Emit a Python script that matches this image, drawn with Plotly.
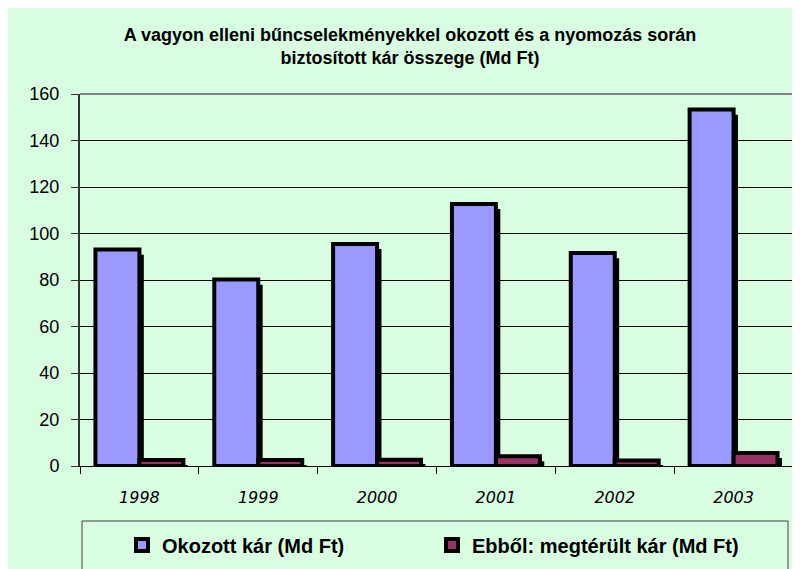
import plotly.graph_objects as go

years = ["1998", "1999", "2000", "2001", "2002", "2003"]
okozott = [93.1, 80.2, 95.5, 112.7, 91.6, 153.3]
megterult = [2.6, 2.6, 2.7, 4.2, 2.4, 5.6]
series_names = ["Okozott kár (Md Ft)", "Ebből: megtérült kár (Md Ft)"]
y_ticks = [0, 20, 40, 60, 80, 100, 120, 140, 160]
title_text = "A vagyon elleni bűncselekményekkel okozott és a nyomozás során<br>biztosított kár összege (Md Ft)"

GREEN = "rgb(217,253,224)"
BLUE = "#9999FF"
PLUM = "#993366"
SANS = "Liberation Sans, Arial, sans-serif"

W = 0.37       # bar width (category units)
SH_X = 0.037   # shadow shift right
SH_Y = 2.2     # shadow drop (data units)

fig = go.Figure()

# shadows
fig.add_trace(go.Bar(x=years, y=[v - SH_Y for v in okozott], width=W, offset=-W + SH_X,
                     marker=dict(color="black", line=dict(width=0)), showlegend=False, hoverinfo="skip"))
fig.add_trace(go.Bar(x=years, y=[v - SH_Y for v in megterult], width=W, offset=SH_X,
                     marker=dict(color="black", line=dict(width=0)), showlegend=False, hoverinfo="skip"))
# bars
fig.add_trace(go.Bar(x=years, y=okozott, width=W, offset=-W, name=series_names[0],
                     marker=dict(color=BLUE, line=dict(color="black", width=4)), legend="legend"))
fig.add_trace(go.Bar(x=years, y=megterult, width=W, offset=0, name=series_names[1],
                     marker=dict(color=PLUM, line=dict(color="black", width=4)), legend="legend2"))

L, R, T, B = 72, 15, 86, 111
pw = 800 - L - R
ph = 569 - T - B

def px_x(px):
    return (px - L) / pw

def px_y(py):
    return (569 - B - py) / ph

shapes = [
    # plot area border (top and right)
    dict(type="line", xref="paper", yref="paper", x0=0, x1=1, y0=1, y1=1,
         line=dict(color="#808080", width=2), layer="above"),
    dict(type="line", xref="paper", yref="paper", x0=1, x1=1, y0=0, y1=1,
         line=dict(color="#808080", width=2), layer="above"),
    # legend box
    dict(type="rect", xref="paper", yref="paper", x0=px_x(74), x1=px_x(780), y0=px_y(575), y1=px_y(513),
         line=dict(color="#404040", width=1), fillcolor="rgba(0,0,0,0)", layer="above"),
]

legend_font = dict(family=SANS, size=20, color="black", weight="bold")
fig.update_layout(
    width=800, height=569,
    margin=dict(l=L, r=R, t=T, b=B, autoexpand=False),
    paper_bgcolor=GREEN,
    plot_bgcolor=GREEN,
    barmode="overlay",
    title=dict(text=title_text, x=402 / 800, xanchor="center", y=1 - 32.5 / 569, yanchor="middle",
               yref="container", font=dict(family=SANS, size=18, color="black", weight="bold")),
    xaxis=dict(type="category", showgrid=False, showline=True, linecolor="black", linewidth=1,
               ticks="outside", ticklen=7, tickcolor="black", tickson="boundaries",
               tickfont=dict(family="DejaVu Sans, sans-serif", size=16, color="black", style="italic"),
               ticklabelstandoff=17, automargin=False),
    yaxis=dict(range=[0, 160], tickvals=y_ticks, showgrid=True, gridcolor="black", gridwidth=1,
               showline=True, linecolor="#333333", linewidth=2, ticks="outside", ticklen=7,
               tickcolor="#333333", zeroline=False,
               tickfont=dict(family=SANS, size=18, color="black"), ticklabelstandoff=8,
               automargin=False),
    legend=dict(orientation="h", x=px_x(114), xanchor="left", y=px_y(537), yanchor="middle",
                bgcolor="rgba(0,0,0,0)", font=legend_font, borderwidth=0),
    legend2=dict(orientation="h", x=px_x(424), xanchor="left", y=px_y(537), yanchor="middle",
                 bgcolor="rgba(0,0,0,0)", font=legend_font, borderwidth=0),
    shapes=shapes,
    showlegend=True,
)

fig.write_html("out.html")
